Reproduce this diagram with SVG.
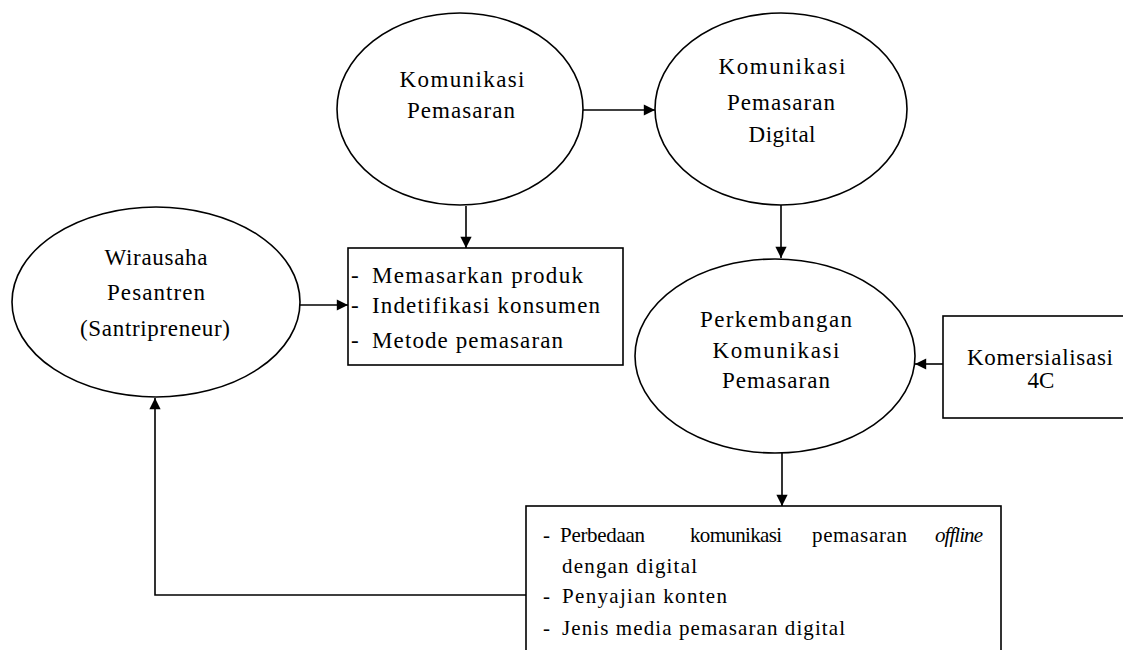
<svg xmlns="http://www.w3.org/2000/svg" width="1123" height="650" viewBox="0 0 1123 650">
<style>
.shape{fill:#fff;stroke:#000;stroke-width:1.6}
.line{fill:none;stroke:#000;stroke-width:1.6}
text{font-family:"Liberation Serif","Times New Roman",serif;font-size:23px;fill:#000}
.b2 text{font-size:21px}
.c{text-anchor:middle}
</style>
<defs>
<marker id="arr" viewBox="0 0 10 10" refX="10" refY="5" markerWidth="8" markerHeight="7" orient="auto" markerUnits="strokeWidth">
<path d="M0,0 L10,5 L0,10 Z" fill="#000"/>
</marker>
</defs>
<rect width="1123" height="650" fill="#fff"/>
<g id="connectors">
<line class="line" x1="583" y1="110" x2="655" y2="110" marker-end="url(#arr)"/>
<line class="line" x1="466" y1="206" x2="466" y2="248" marker-end="url(#arr)"/>
<line class="line" x1="781" y1="205" x2="781" y2="258" marker-end="url(#arr)"/>
<line class="line" x1="300" y1="305" x2="348" y2="305" marker-end="url(#arr)"/>
<line class="line" x1="943" y1="364" x2="915" y2="364" marker-end="url(#arr)"/>
<line class="line" x1="782" y1="453" x2="782" y2="506" marker-end="url(#arr)"/>
<polyline class="line" points="526,595 155,595 155,398" marker-end="url(#arr)"/>
</g>
<g id="komunikasi-pemasaran">
<ellipse class="shape" cx="460" cy="109" rx="123" ry="96"/>
<text class="c" x="462" y="87" textLength="125" lengthAdjust="spacing">Komunikasi</text>
<text class="c" x="461" y="118" textLength="108" lengthAdjust="spacing">Pemasaran</text>
</g>
<g id="komunikasi-pemasaran-digital">
<ellipse class="shape" cx="781" cy="109" rx="126" ry="96"/>
<text class="c" x="782" y="74" textLength="127" lengthAdjust="spacing">Komunikasi</text>
<text class="c" x="781" y="110" textLength="108" lengthAdjust="spacing">Pemasaran</text>
<text class="c" x="782" y="142" textLength="67" lengthAdjust="spacing">Digital</text>
</g>
<g id="wirausaha-pesantren">
<ellipse class="shape" cx="156" cy="302" rx="144" ry="95"/>
<text class="c" x="156" y="265" textLength="103" lengthAdjust="spacing">Wirausaha</text>
<text class="c" x="156" y="300" textLength="98" lengthAdjust="spacing">Pesantren</text>
<text class="c" x="155" y="336" textLength="150" lengthAdjust="spacing">(Santripreneur)</text>
</g>
<g id="box-pemasaran">
<rect class="shape" x="348" y="248" width="275" height="117"/>
<text x="351" y="283">-</text>
<text x="372" y="283" textLength="211" lengthAdjust="spacing">Memasarkan produk</text>
<text x="351" y="313">-</text>
<text x="372" y="313" textLength="228" lengthAdjust="spacing">Indetifikasi konsumen</text>
<text x="351" y="348">-</text>
<text x="372" y="348" textLength="191" lengthAdjust="spacing">Metode pemasaran</text>
</g>
<g id="perkembangan">
<ellipse class="shape" cx="775" cy="356" rx="140" ry="97"/>
<text class="c" x="776" y="327" textLength="152" lengthAdjust="spacing">Perkembangan</text>
<text class="c" x="776" y="358" textLength="127" lengthAdjust="spacing">Komunikasi</text>
<text class="c" x="776" y="388" textLength="108" lengthAdjust="spacing">Pemasaran</text>
</g>
<g id="komersialisasi">
<rect class="shape" x="943" y="316" width="190" height="102"/>
<text class="c" x="1040" y="365" textLength="146" lengthAdjust="spacing">Komersialisasi</text>
<text class="c" x="1041" y="388">4C</text>
</g>
<g id="box-digital" class="b2">
<rect class="shape" x="526" y="506" width="475" height="160"/>
<text x="543" y="542">-</text>
<text x="560" y="542" textLength="85" lengthAdjust="spacing">Perbedaan</text>
<text x="690" y="542" textLength="92" lengthAdjust="spacing">komunikasi</text>
<text x="812" y="542" textLength="95" lengthAdjust="spacing">pemasaran</text>
<text x="935" y="542" font-style="italic" textLength="48" lengthAdjust="spacing">offline</text>
<text x="562" y="573" textLength="135" lengthAdjust="spacing">dengan digital</text>
<text x="543" y="603">-</text>
<text x="562" y="603" textLength="165" lengthAdjust="spacing">Penyajian konten</text>
<text x="543" y="635">-</text>
<text x="562" y="635" textLength="283" lengthAdjust="spacing">Jenis media pemasaran digital</text>
</g>
</svg>
